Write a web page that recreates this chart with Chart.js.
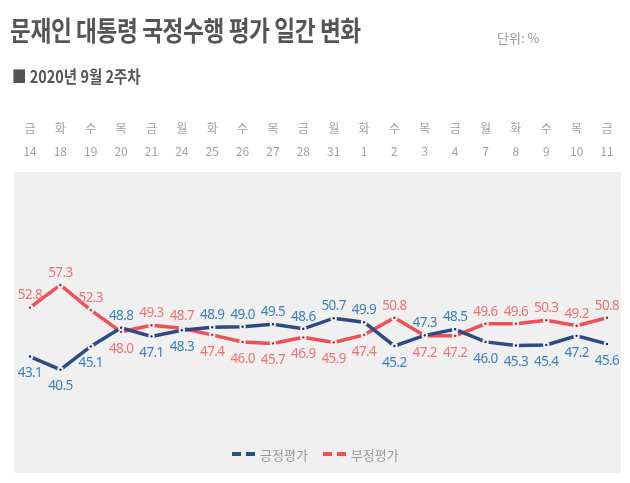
<!DOCTYPE html>
<html>
<head>
<meta charset="utf-8">
<script src="https://cdn.jsdelivr.net/npm/chart.js@4/dist/chart.umd.min.js"></script>
<style>
  html, body { margin: 0; padding: 0; background: #fff; }
  body { width: 630px; height: 483px; position: relative; overflow: hidden;
         font-family: "Noto Sans CJK KR", "Noto Sans", sans-serif; }
  .panel { position: absolute; left: 14px; top: 172px; width: 607px; height: 301px; background: #f0f0f0; }
  .wrap { position: absolute; left: 0; top: 0; width: 630px; height: 483px; }
  .title { position: absolute; left: 10px; top: 10px; font-size: 27px; font-weight: 700; color: #555;
           transform: scaleX(0.84); transform-origin: left top; white-space: nowrap; letter-spacing: -0.5px; }
  .unit { position: absolute; left: 497px; top: 28px; font-size: 13px; color: #999; }
  .sub { position: absolute; left: 12px; top: 63px; font-size: 17px; font-weight: 700; color: #555;
         transform: scaleX(0.85); transform-origin: left top; white-space: nowrap; }
  .legend { position: absolute; top: 443px; left: 232px; font-size: 13px; color: #999; white-space: nowrap; }
  .legend span { display: inline-block; vertical-align: middle; }
  .dash { width: 9px; height: 4px; margin-right: 5px; }
  .txt { margin-right: 12px; }
</style>
</head>
<body>
<div class="panel"></div>
<div class="wrap"><canvas id="dailyChart"></canvas></div>
<div class="title">문재인 대통령 국정수행 평가 일간 변화</div>
<div class="unit">단위: %</div>
<div class="sub">■ 2020년 9월 2주차</div>
<div class="legend">
  <span class="dash" style="background:#2d4a85"></span><span class="dash" style="background:#2d4a85"></span><span class="txt">긍정평가</span>
  <span class="dash" style="background:#f04f55"></span><span class="dash" style="background:#f04f55"></span><span>부정평가</span>
</div>
<script>
// weekday + date labels
const weekdays = ["금", "화", "수", "목", "금", "월", "화", "수", "목", "금", "월", "화", "수", "목", "금", "월", "화", "수", "목", "금"];
const dates = ["14", "18", "19", "20", "21", "24", "25", "26", "27", "28", "31", "1", "2", "3", "4", "7", "8", "9", "10", "11"];

// 긍정평가 / 부정평가 (%)
const positive = [43.1, 40.5, 45.1, 48.8, 47.1, 48.3, 48.9, 49.0, 49.5, 48.6, 50.7, 49.9, 45.2, 47.3, 48.5, 46.0, 45.3, 45.4, 47.2, 45.6];
const negative = [52.8, 57.3, 52.3, 48.0, 49.3, 48.7, 47.4, 46.0, 45.7, 46.9, 45.9, 47.4, 50.8, 47.2, 47.2, 49.6, 49.6, 50.3, 49.2, 50.8];

const labelColors = ["#3f80c0", "#f07272"];

// draw value labels: higher series above the point, lower below
const valueLabels = {
  id: "valueLabels",
  afterDatasetsDraw(chart) {
    const ctx = chart.ctx;
    ctx.save();
    ctx.font = "13.5px 'Noto Sans', sans-serif";
    ctx.letterSpacing = "-0.6px";
    ctx.textAlign = "center";
    ctx.textBaseline = "middle";
    chart.data.datasets.forEach((ds, i) => {
      const other = chart.data.datasets[1 - i].data;
      chart.getDatasetMeta(i).data.forEach((pt, j) => {
        const above = ds.data[j] > other[j];
        ctx.fillStyle = labelColors[i];
        ctx.fillText(ds.data[j].toFixed(1), pt.x, above ? pt.y - 12 : pt.y + 17);
      });
    });
    ctx.restore();
  },
};

const ctx = document.getElementById("dailyChart").getContext("2d");
new Chart(ctx, {
  type: "line",
  data: {
    labels: weekdays.map((w, i) => [w, dates[i]]),
    datasets: [
      {
        label: "긍정평가",
        data: positive,
        borderColor: "#2d4a85",
        borderWidth: 3.5,
        pointRadius: 2.2,
        pointBackgroundColor: "#1d2c50",
        pointBorderColor: "#f0f0f0",
        pointBorderWidth: 2,
        tension: 0,
      },
      {
        label: "부정평가",
        data: negative,
        borderColor: "#f04f55",
        borderWidth: 3.5,
        pointRadius: 2.2,
        pointBackgroundColor: "#a02a30",
        pointBorderColor: "#f0f0f0",
        pointBorderWidth: 2,
        tension: 0,
      },
    ],
  },
  options: {
    responsive: true,
    maintainAspectRatio: false,
    animation: false,
    layout: { padding: { top: 107, bottom: 10, left: 30, right: 23 } },
    plugins: { legend: { display: false }, tooltip: { enabled: false } },
    scales: {
      x: {
        position: "top",
        offset: false,
        grid: { display: false, drawTicks: false },
        border: { display: false },
        ticks: {
          color: "#a0a0a0",
          padding: 10,
          autoSkip: false,
          maxRotation: 0,
          font: { size: 12, lineHeight: "23px", family: "'Noto Sans CJK KR', 'Noto Sans', sans-serif" },
        },
      },
      y: { display: false, min: 20, max: 79.5 },
    },
  },
  plugins: [valueLabels],
});
</script>
</body>
</html>
